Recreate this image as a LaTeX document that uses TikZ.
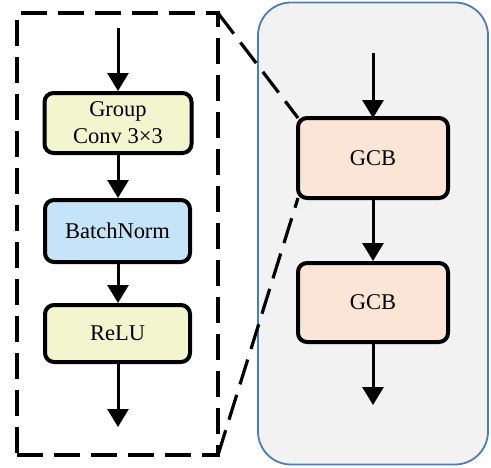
\documentclass[tikz,border=0pt]{standalone}
\usepackage{fontspec}
\setmainfont{Liberation Serif}
\usetikzlibrary{arrows.meta}
\definecolor{yel}{HTML}{F2F5CD}
\definecolor{blu}{HTML}{C6E4F8}
\definecolor{pch}{HTML}{FBE5D6}
\definecolor{pnl}{HTML}{F2F2F2}
\definecolor{pnlb}{HTML}{4D7EAE}
\tikzset{
  blk/.style={draw=black, line width=4pt, rounded corners=9pt, align=center,
    font=\fontsize{22.5}{27}\selectfont, inner sep=0pt},
  arr/.style={line width=3pt, -{Triangle[width=21pt,length=18pt]}},
  zdash/.style={line width=3.2pt, dash pattern=on 26pt off 11pt},
}
\begin{document}
\begin{tikzpicture}[x=1pt,y=-1pt]
\useasboundingbox (0,0) rectangle (491,467);
% right panel
\node[draw=pnlb, fill=pnl, line width=1.8pt, rounded corners=33pt,
  minimum width=230pt, minimum height=462pt, inner sep=0pt] (panel) at (373,233.5) {};
% dashed zoom box
\node[zdash, draw=black, minimum width=201pt, minimum height=442pt, inner sep=0pt, outer sep=0pt] (zoom) at (117.5,234) {};
% blocks
\node[blk, fill=yel, minimum width=147pt, minimum height=60pt] (g) at (118,123) {Group\\Conv 3×3};
\node[blk, fill=blu, minimum width=145pt, minimum height=62pt] (bn) at (117.5,231) {BatchNorm};
\node[blk, fill=yel, minimum width=145pt, minimum height=57pt] (r) at (117.5,333.5) {ReLU};
\node[blk, fill=pch, minimum width=150pt, minimum height=80pt, outer sep=0pt] (c1) at (373,158) {GCB};
\node[blk, fill=pch, minimum width=150pt, minimum height=79pt] (c2) at (373,302.5) {GCB};
% zoom connectors
\draw[zdash] (zoom.north east) -- (c1.north west);
\draw[zdash] (zoom.south east) -- (c1.south west);
% arrows
\coordinate (lin) at (118,28);
\coordinate (lout) at (118,427);
\coordinate (rin) at (373,53);
\coordinate (rout) at (373,405);
\draw[arr] (lin) -- (g.north -| lin);
\draw[arr] (g.south -| lin) -- (bn.north -| lin);
\draw[arr] (bn.south -| lin) -- (r.north -| lin);
\draw[arr] (r.south -| lin) -- (lout);
\draw[arr] (rin) -- (c1.north);
\draw[arr] (c1.south) -- (c2.north);
\draw[arr] (c2.south) -- (rout);
\end{tikzpicture}
\end{document}
